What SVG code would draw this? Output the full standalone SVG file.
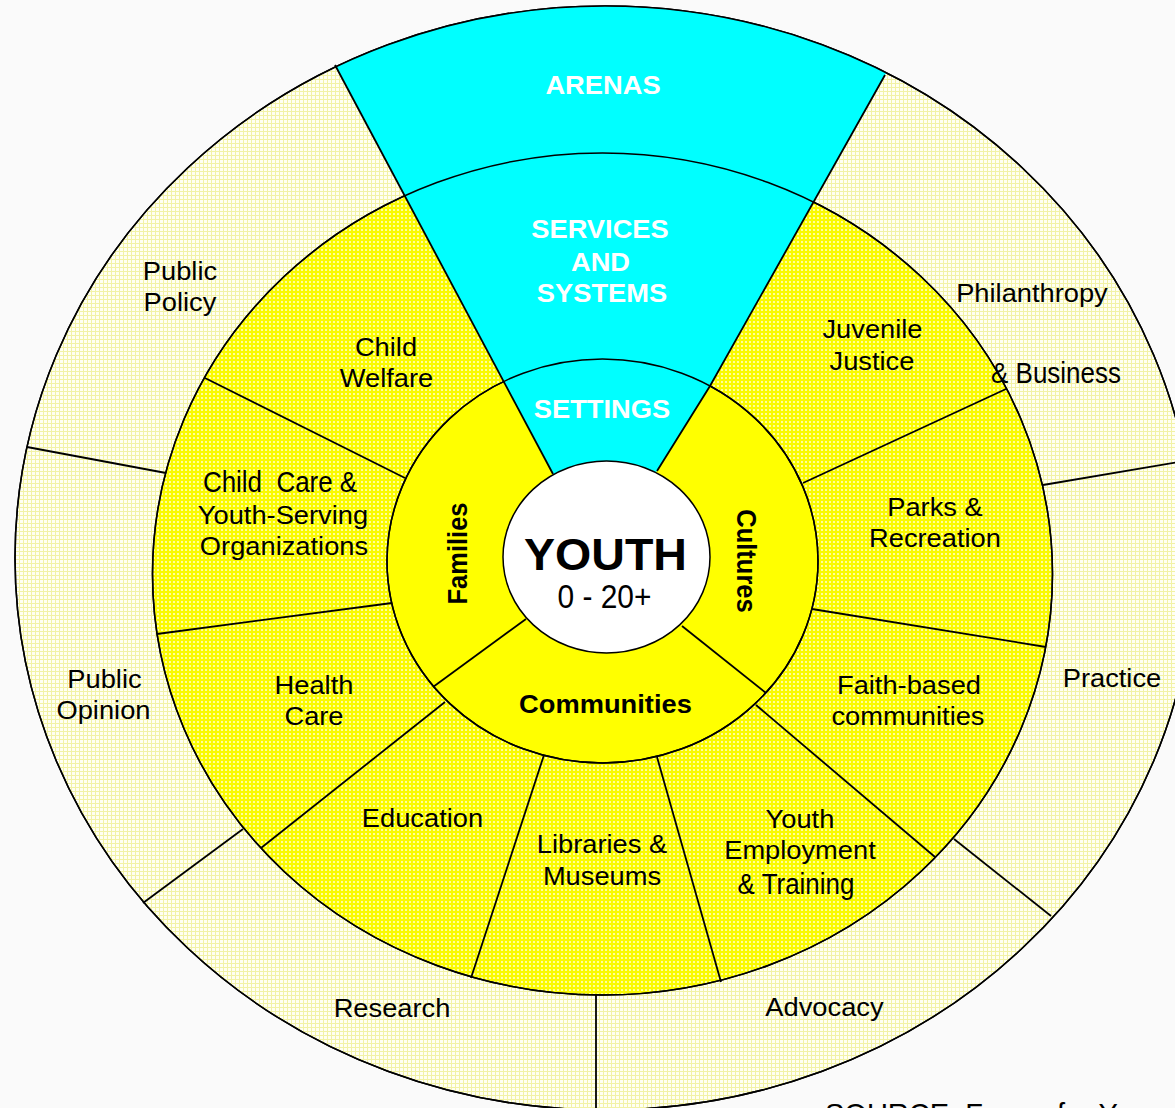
<svg xmlns="http://www.w3.org/2000/svg" width="1175" height="1108" viewBox="0 0 1175 1108">
<defs>
<pattern id="pOuter" width="4" height="4" patternUnits="userSpaceOnUse">
<rect width="4" height="4" fill="#FFFFF2"/>
<rect x="0" y="3" width="4" height="1" fill="#F2F2A6"/>
<rect x="3" y="0" width="1" height="4" fill="#F2F2A6"/>
</pattern>
<pattern id="pServ" width="4" height="4" patternUnits="userSpaceOnUse">
<rect width="4" height="4" fill="#FAFA00"/>
<rect x="1" y="1" width="2" height="2" fill="#FFFF9C"/>
</pattern>
<clipPath id="clipOuter"><ellipse cx="605" cy="558" rx="590" ry="552"/></clipPath>
</defs>
<style>
.ring{stroke:#000;stroke-width:1.5}
.edge{fill:none;stroke:#000;stroke-width:1.5}
.div{stroke:#000;stroke-width:1.8;fill:none}
text{font-family:"Liberation Sans",Arial,sans-serif;text-anchor:middle;fill:#000}
.r{font-size:25.5px}
.n{font-size:29.5px}
.b{font-weight:bold;font-size:25.5px}
.w{font-weight:bold;font-size:25.5px;fill:#fff}
.s{transform-box:fill-box;transform-origin:center;transform:scale(1.07,1)}
.c{transform-box:fill-box;transform-origin:center;transform:scale(0.88,1)}
</style>
<rect width="1175" height="1108" fill="#FAFAFA"/>

<g id="rings">
<ellipse id="ring-outer" class="ring" cx="605" cy="558" rx="590" ry="552" fill="url(#pOuter)"/>
<ellipse id="ring-services" class="ring" cx="602.5" cy="574" rx="450" ry="421" fill="url(#pServ)"/>
<ellipse id="ring-settings" class="ring" cx="602.5" cy="561" rx="215.5" ry="202" fill="#FFFF00"/>
<polygon id="cyan-sector" clip-path="url(#clipOuter)" points="553,474 247,-100 984,-100 885,75 710,386 657,471 605,520" fill="#00FFFF"/>
<ellipse class="edge" cx="602.5" cy="574" rx="450" ry="421"/>
<ellipse class="edge" cx="602.5" cy="561" rx="215.5" ry="202"/>
<ellipse class="edge" cx="605" cy="558" rx="590" ry="552"/>
<ellipse id="youth-core" class="ring" cx="606.5" cy="557" rx="103.5" ry="96" fill="#FFFFFF"/>
</g>

<g id="connectors">
<line class="div" x1="335" y1="65" x2="553" y2="474"/>
<polyline class="div" points="885,75 710,386 657,471"/>
<line class="div" x1="405" y1="478" x2="205" y2="378"/>
<line class="div" x1="392" y1="603" x2="157" y2="634"/>
<line class="div" x1="445" y1="702" x2="261" y2="848"/>
<line class="div" x1="544" y1="755" x2="471" y2="978"/>
<line class="div" x1="657" y1="757" x2="721" y2="982"/>
<line class="div" x1="756" y1="705" x2="935" y2="857"/>
<line class="div" x1="812" y1="609" x2="1046" y2="647"/>
<line class="div" x1="803" y1="483" x2="1006" y2="389"/>
<line class="div" x1="433" y1="687" x2="526" y2="619"/>
<line class="div" x1="682" y1="626" x2="766" y2="693"/>
<line class="div" x1="166" y1="473" x2="27" y2="447"/>
<line class="div" x1="243" y1="829" x2="143" y2="903"/>
<line class="div" x1="596" y1="995" x2="596" y2="1110"/>
<line class="div" x1="954" y1="839" x2="1051" y2="916"/>
<line class="div" x1="1043" y1="485" x2="1185" y2="461"/>
</g>

<g id="arenas"><text class="w s" x="603" y="94">ARENAS</text></g>
<g id="services-and-systems">
<text class="w s" x="600" y="238">SERVICES</text>
<text class="w s" x="600.5" y="271">AND</text>
<text class="w s" x="602" y="302">SYSTEMS</text>
</g>
<g id="settings"><text class="w s" x="602" y="418">SETTINGS</text></g>
<g id="youth">
<text class="s" x="605.5" y="570" style="font-weight:bold;font-size:43.5px">YOUTH</text>
<text class="c" x="604.5" y="608" style="font-size:34px">0 - 20+</text>
</g>
<g id="families"><text class="b" transform="translate(467,553.5) scale(1.07,1) rotate(-90)" x="0" y="0">Families</text></g>
<g id="cultures"><text class="b" transform="translate(737,561) scale(1.07,1) rotate(90)" x="0" y="0">Cultures</text></g>
<g id="communities"><text class="b s" x="605.5" y="713">Communities</text></g>

<g id="child-welfare">
<text class="r s" x="386" y="356">Child</text>
<text class="r s" x="386.5" y="387">Welfare</text>
</g>
<g id="child-care">
<text class="n c" x="280" y="492" xml:space="preserve">Child  Care &amp;</text>
<text class="r s" x="283" y="524">Youth-Serving</text>
<text class="r s" x="284" y="555">Organizations</text>
</g>
<g id="health-care">
<text class="r s" x="314" y="694">Health</text>
<text class="r s" x="314" y="725">Care</text>
</g>
<g id="education"><text class="r s" x="422.5" y="827">Education</text></g>
<g id="libraries-museums">
<text class="r s" x="602" y="853">Libraries &amp;</text>
<text class="r s" x="602" y="885">Museums</text>
</g>
<g id="youth-employment">
<text class="r s" x="800" y="828">Youth</text>
<text class="r s" x="800" y="859">Employment</text>
<text class="n c" x="796" y="894">&amp; Training</text>
</g>
<g id="faith-based">
<text class="r s" x="909" y="694">Faith-based</text>
<text class="r s" x="908" y="725">communities</text>
</g>
<g id="parks-recreation">
<text class="r s" x="935" y="516">Parks &amp;</text>
<text class="r s" x="935" y="547">Recreation</text>
</g>
<g id="juvenile-justice">
<text class="r s" x="872.5" y="338">Juvenile</text>
<text class="r s" x="872" y="370">Justice</text>
</g>

<g id="public-policy">
<text class="r s" x="180" y="280">Public</text>
<text class="r s" x="180" y="311">Policy</text>
</g>
<g id="public-opinion">
<text class="r s" x="104.5" y="688">Public</text>
<text class="r s" x="103.5" y="719">Opinion</text>
</g>
<g id="research"><text class="r s" x="392" y="1017">Research</text></g>
<g id="advocacy"><text class="r s" x="824.5" y="1016">Advocacy</text></g>
<g id="practice"><text class="r s" x="1112" y="687">Practice</text></g>
<g id="philanthropy">
<text class="r s" x="1032" y="302">Philanthropy</text>
<text class="n c" x="1056" y="383">&amp; Business</text>
</g>
<g id="source"><text x="825" y="1124" style="text-anchor:start;font-size:29px">SOURCE: Forum for Y</text></g>
</svg>
